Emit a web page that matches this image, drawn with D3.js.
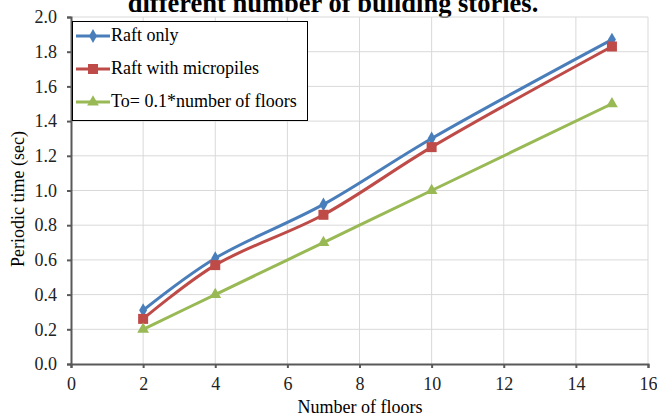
<!DOCTYPE html>
<html>
<head>
<meta charset="utf-8">
<script src="https://d3js.org/d3.v7.min.js"></script>
<style>
  body { margin: 0; background: #fff; }
  svg text { font-family: "Times New Roman", "Liberation Serif", Times, serif !important; }
</style>
</head>
<body>
<svg width="657" height="417"></svg>
<script>
// data
var floors = [2, 4, 7, 10, 15];
var raftOnly = [0.31, 0.61, 0.92, 1.30, 1.87];
var raftMicro = [0.26, 0.57, 0.86, 1.25, 1.83];
var toCode = [0.2, 0.4, 0.7, 1.0, 1.5];
var seriesNames = ["Raft only", "Raft with micropiles", "To= 0.1*number of floors"];
var xTicks = [0, 2, 4, 6, 8, 10, 12, 14, 16];
var yTicks = [0, 0.2, 0.4, 0.6, 0.8, 1.0, 1.2, 1.4, 1.6, 1.8, 2.0];

var svg = d3.select("svg"),
    width = 657,
    height = 417;

var margin = { top: 17, right: 9, bottom: 53, left: 71 };

var x = d3.scaleLinear()
    .domain([0, 16])
    .range([margin.left, width - margin.right]);

var y = d3.scaleLinear()
    .domain([0, 2])
    .range([height - margin.bottom, margin.top]);

var colors = ["#4a7ebb", "#be4b48", "#98b954"];
var series = [raftOnly, raftMicro, toCode];

// title, cut off at the top like the original
svg.append("text")
    .attr("x", 333)
    .attr("y", 12)
    .attr("text-anchor", "middle")
    .attr("font-size", 26.5)
    .attr("font-weight", "bold")
    .text("different number of building stories.");

// grid
svg.append("g")
    .selectAll("line")
    .data(yTicks.slice(1))
    .enter().append("line")
    .attr("x1", x(0)).attr("x2", x(16))
    .attr("y1", d => y(d)).attr("y2", d => y(d))
    .attr("stroke", "#d9d9d9");

svg.append("g")
    .selectAll("line")
    .data(xTicks.slice(1))
    .enter().append("line")
    .attr("x1", d => x(d)).attr("x2", d => x(d))
    .attr("y1", y(0)).attr("y2", y(2))
    .attr("stroke", "#d9d9d9");

// axes
var xAxis = svg.append("g")
    .attr("transform", "translate(0," + y(0) + ")")
    .call(d3.axisBottom(x).tickValues(xTicks).tickSize(4).tickPadding(9).tickFormat(d3.format("d")));

var yAxis = svg.append("g")
    .attr("transform", "translate(" + x(0) + ",0)")
    .call(d3.axisLeft(y).tickValues(yTicks).tickSize(4).tickPadding(10).tickFormat(d3.format(".1f")));

[xAxis, yAxis].forEach(function (a) {
    a.attr("font-size", 18);
    a.select(".domain").attr("stroke", "#595959").attr("stroke-width", 2);
    a.selectAll(".tick line").attr("stroke", "#595959").attr("stroke-width", 2);
    a.selectAll(".tick text").attr("fill", "#222");
});

// axis titles
svg.append("text")
    .attr("transform", "translate(24," + 199 + ") rotate(-90)")
    .attr("text-anchor", "middle")
    .attr("font-size", 18)
    .text("Periodic time (sec)");

svg.append("text")
    .attr("x", 360)
    .attr("y", 413)
    .attr("text-anchor", "middle")
    .attr("font-size", 18)
    .text("Number of floors");

// lines
var line = d3.line()
    .x((d, i) => x(floors[i]))
    .y(d => y(d))
    .curve(d3.curveCatmullRom.alpha(0.5));

function marker(g, type, cx, cy, color) {
    if (type === 0) {
        g.append("path")
            .attr("d", d3.symbol().type(d3.symbolDiamond).size(55)())
            .attr("transform", "translate(" + cx + "," + cy + ")")
            .attr("fill", color);
    } else if (type === 1) {
        g.append("rect")
            .attr("x", cx - 5).attr("y", cy - 5)
            .attr("width", 10).attr("height", 10)
            .attr("fill", color);
    } else {
        g.append("path")
            .attr("d", d3.symbol().type(d3.symbolTriangle).size(60)())
            .attr("transform", "translate(" + cx + "," + cy + ")")
            .attr("fill", color);
    }
}

series.forEach(function (vals, k) {
    svg.append("path")
        .datum(vals)
        .attr("d", line)
        .attr("fill", "none")
        .attr("stroke", colors[k])
        .attr("stroke-width", 3);
    var g = svg.append("g");
    vals.forEach(function (v, i) {
        marker(g, k, x(floors[i]), y(v), colors[k]);
    });
});

// legend
var lg = svg.append("g");
lg.append("rect")
    .attr("x", 72.5).attr("y", 21.5)
    .attr("width", 235).attr("height", 99)
    .attr("fill", "#fff")
    .attr("stroke", "#000")
    .attr("stroke-width", 1);

seriesNames.forEach(function (name, k) {
    var ly = 36 + k * 33;
    lg.append("line")
        .attr("x1", 76).attr("x2", 110)
        .attr("y1", ly).attr("y2", ly)
        .attr("stroke", colors[k])
        .attr("stroke-width", 3);
    marker(lg, k, 93, ly, colors[k]);
    lg.append("text")
        .attr("x", 111)
        .attr("y", ly + 5)
        .attr("font-size", 18)
        .text(name);
});
</script>
</body>
</html>
